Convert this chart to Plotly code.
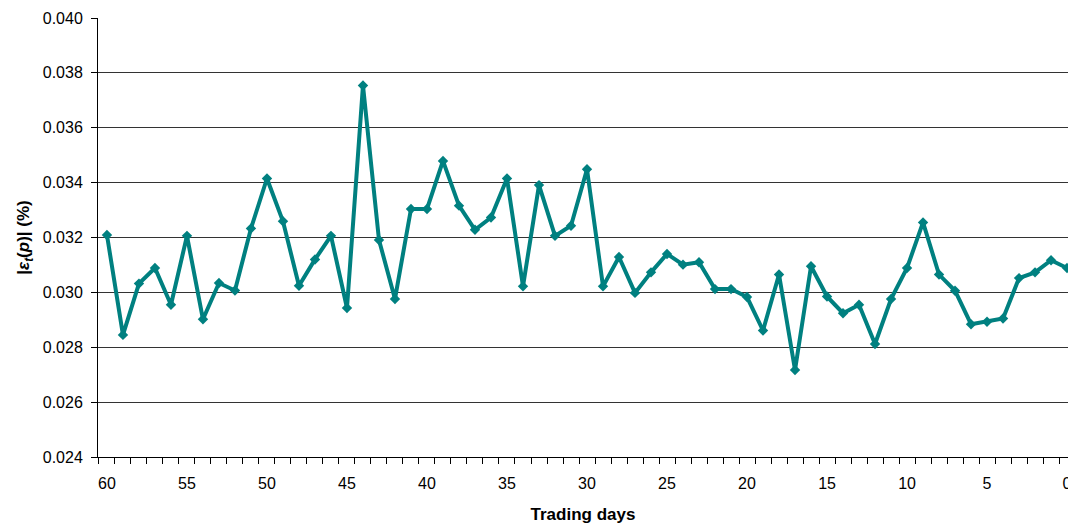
import plotly.graph_objects as go

days = list(range(60, -1, -1))
values = [
    0.03209, 0.02845, 0.03032, 0.03089, 0.02955, 0.03206, 0.02902, 0.03034, 0.03007, 0.03233,
    0.03415, 0.03259, 0.03024, 0.03120, 0.03206, 0.02943, 0.03754, 0.03191, 0.02976, 0.03304,
    0.03304, 0.03479, 0.03316, 0.03228, 0.03273, 0.03415, 0.03022, 0.03391, 0.03206, 0.03243,
    0.03449, 0.03022, 0.03129, 0.02998, 0.03073, 0.03140, 0.03101, 0.03110, 0.03012, 0.03012,
    0.02983, 0.02861, 0.03065, 0.02717, 0.03095, 0.02985, 0.02924, 0.02955, 0.02812, 0.02976,
    0.03089, 0.03255, 0.03065, 0.03006, 0.02884, 0.02893, 0.02905, 0.03052, 0.03073, 0.03117,
    0.03089,
]
x_tick_vals = [60, 55, 50, 45, 40, 35, 30, 25, 20, 15, 10, 5, 0]
y_tick_vals = [0.024, 0.026, 0.028, 0.030, 0.032, 0.034, 0.036, 0.038, 0.040]

fig = go.Figure()
fig.add_trace(go.Scatter(
    x=days, y=values, mode="lines+markers",
    line=dict(color="#008080", width=4),
    marker=dict(symbol="diamond", size=8, color="#008080"),
    showlegend=False, hoverinfo="skip",
))

font = "Liberation Sans, Arial, sans-serif"
fig.update_layout(
    width=1068, height=526,
    margin=dict(l=98, r=0, t=18, b=69),
    paper_bgcolor="white", plot_bgcolor="white",
    font=dict(family=font, size=16, color="black"),
    xaxis=dict(
        range=[60.56, -0.06], automargin=False,
        tickvals=x_tick_vals,
        ticks="outside", ticklen=12, tickcolor="rgba(0,0,0,0)",
        ticklabeloverflow="allow",
        showgrid=False, zeroline=False,
        showline=True, linecolor="black", linewidth=1,
        tickfont=dict(size=16),
        minor=dict(tickvals=[d + 0.5 for d in days], ticks="outside", ticklen=6,
                   tickcolor="black", tickwidth=1, showgrid=False),
        title=dict(text="<b>Trading days</b>", font=dict(size=17), standoff=16),
    ),
    yaxis=dict(
        range=[0.024, 0.040], automargin=False,
        tickvals=y_tick_vals, tickformat=".3f",
        ticks="outside", ticklen=6, tickcolor="black", tickwidth=1,
        ticklabelstandoff=5,
        showgrid=True, gridcolor="#333333", gridwidth=1,
        zeroline=False,
        showline=True, linecolor="black", linewidth=1,
        tickfont=dict(size=16),
        title=dict(text="<b>|<i>ε</i><sub><i>t</i></sub>(<i>p</i>)| (%)</b>", font=dict(size=17), standoff=8),
    ),
)

fig.write_html(
    "out.html",
    config={"displayModeBar": False},
    post_script="document.body.style.margin='0';document.body.style.overflow='hidden';",
)
